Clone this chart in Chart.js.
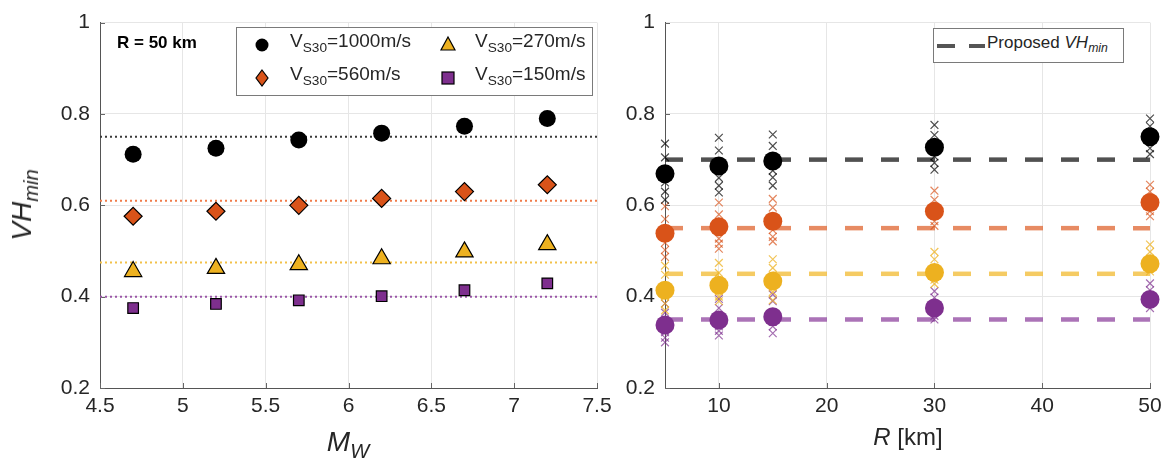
<!DOCTYPE html>
<html>
<head>
<meta charset="utf-8">
<script src="https://cdn.jsdelivr.net/npm/chart.js@4.4.0/dist/chart.umd.min.js"></script>
<style>
  body { margin: 0; background: #fff; font-family: "Liberation Sans", Arial, sans-serif; color: #262626; }
  .abs { position: absolute; }
  canvas { position: absolute; top: 0; }
  .lbl { position: absolute; white-space: nowrap; }
  .lbl sub { font-size: 0.72em; vertical-align: -0.35em; line-height: 0; }
  .box { position: absolute; background: #fff; border: 1px solid #7a7a7a; box-sizing: border-box; }
</style>
</head>
<body>
<canvas id="leftChart" width="620" height="473" style="left:0"></canvas>
<canvas id="rightChart" width="571" height="473" style="left:600px"></canvas>

<!-- axis titles -->
<div class="lbl" style="left:22px;top:205px;font-size:28px;transform:translate(-50%,-50%) rotate(-90deg)"><i>VH<sub>min</sub></i></div>
<div class="lbl" style="left:348px;top:442px;font-size:28px;transform:translate(-50%,-50%)"><i>M<sub>W</sub></i></div>
<div class="lbl" style="left:908px;top:437px;font-size:24px;transform:translate(-50%,-50%)"><i>R</i> [km]</div>

<!-- left panel annotation + legend -->
<div class="lbl" style="left:117px;top:33px;font-size:17px;font-weight:bold;color:#000">R = 50 km</div>
<div class="box" style="left:236px;top:27px;width:357px;height:69px"></div>
<svg class="abs" style="left:236px;top:27px" width="357" height="69">
  <circle cx="26" cy="18" r="6.5" fill="#000"/>
  <polygon points="212,10 219,23 205,23" fill="#EDB120" stroke="#000" stroke-width="1.2"/>
  <polygon points="26,43 32,51 26,59 20,51" fill="#D95319" stroke="#000" stroke-width="1.2"/>
  <rect x="206" y="45" width="12" height="12" fill="#7E2F8E" stroke="#000" stroke-width="1.2"/>
</svg>
<div class="lbl" style="left:290px;top:30px;font-size:19px">V<sub>S30</sub>=1000m/s</div>
<div class="lbl" style="left:475px;top:30px;font-size:19px">V<sub>S30</sub>=270m/s</div>
<div class="lbl" style="left:290px;top:63px;font-size:19px">V<sub>S30</sub>=560m/s</div>
<div class="lbl" style="left:475px;top:63px;font-size:19px">V<sub>S30</sub>=150m/s</div>

<!-- right panel legend -->
<div class="box" style="left:933px;top:28px;width:191px;height:35px"></div>
<svg class="abs" style="left:933px;top:28px" width="60" height="35">
  <line x1="4" y1="18" x2="52" y2="18" stroke="#555" stroke-width="4" stroke-dasharray="18,14"/>
</svg>
<div class="lbl" style="left:987px;top:33px;font-size:17px">Proposed <i>VH<sub>min</sub></i></div>

<script>
// ---- left panel: VHmin vs magnitude at R = 50 km ----
const magnitudes = [4.7, 5.2, 5.7, 6.2, 6.7, 7.2];
const vh1000 = [0.712, 0.725, 0.743, 0.758, 0.773, 0.790];
const vh560 = [0.576, 0.587, 0.600, 0.615, 0.630, 0.645];
const vh270 = [0.455, 0.462, 0.470, 0.483, 0.498, 0.514];
const vh150 = [0.375, 0.384, 0.392, 0.401, 0.414, 0.429];
const levelsMw = [0.75, 0.61, 0.475, 0.40];   // dotted lines, same order as above
const mwTicks = [4.5, 5, 5.5, 6, 6.5, 7, 7.5];

// ---- right panel: VHmin vs distance ----
const distances = [5, 10, 15, 30, 50];
const rTicks = [10, 20, 30, 40, 50];
const vhTicks = [0.2, 0.4, 0.6, 0.8, 1];

// single-magnitude values (crosses), one row per distance
const cross1000 = [
  [0.735, 0.705, 0.675, 0.650, 0.630, 0.612],
  [0.748, 0.720, 0.690, 0.660, 0.643, 0.628],
  [0.755, 0.730, 0.701, 0.676, 0.661, 0.643],
  [0.776, 0.754, 0.729, 0.707, 0.693, 0.678],
  [0.712, 0.725, 0.743, 0.758, 0.773, 0.790]
];
const cross560 = [
  [0.598, 0.570, 0.540, 0.518, 0.502, 0.487],
  [0.606, 0.580, 0.552, 0.527, 0.516, 0.505],
  [0.614, 0.595, 0.568, 0.546, 0.531, 0.521],
  [0.632, 0.612, 0.592, 0.578, 0.565, 0.555],
  [0.576, 0.587, 0.600, 0.615, 0.630, 0.645]
];
const cross270 = [
  [0.468, 0.448, 0.420, 0.400, 0.385, 0.370],
  [0.474, 0.452, 0.430, 0.412, 0.400, 0.390],
  [0.482, 0.463, 0.440, 0.420, 0.410, 0.392],
  [0.498, 0.482, 0.462, 0.447, 0.437, 0.428],
  [0.455, 0.462, 0.470, 0.483, 0.498, 0.514]
];
const cross150 = [
  [0.385, 0.365, 0.340, 0.322, 0.310, 0.300],
  [0.395, 0.375, 0.352, 0.335, 0.325, 0.315],
  [0.405, 0.390, 0.360, 0.345, 0.335, 0.320],
  [0.412, 0.398, 0.382, 0.368, 0.358, 0.350],
  [0.375, 0.384, 0.392, 0.401, 0.414, 0.429]
];
// averages (filled circles)
const mean1000 = [0.669, 0.686, 0.697, 0.727, 0.750];
const mean560 = [0.539, 0.553, 0.565, 0.587, 0.606];
const mean270 = [0.414, 0.425, 0.434, 0.453, 0.472];
const mean150 = [0.338, 0.349, 0.356, 0.375, 0.394];
const proposed = [0.70, 0.55, 0.45, 0.35];

const colors = ['#000000', '#D95319', '#EDB120', '#7E2F8E'];
const crossColors = ['rgba(0,0,0,0.7)', 'rgba(217,83,25,0.7)', 'rgba(237,177,32,0.75)', 'rgba(126,47,142,0.7)'];
const dashColors = ['rgba(50,50,50,0.85)', 'rgba(225,110,60,0.8)', 'rgba(242,190,60,0.8)', 'rgba(150,80,165,0.8)'];
const dotColors = ['#3a3a3a', '#F07C4A', '#F2C14A', '#9A55A8'];

const pts = (xs, ys) => xs.map((x, i) => ({ x: x, y: ys[i] }));
const fmt = v => String(Math.round(v * 10) / 10);

// MATLAB style ticks pointing into the plot
const innerTicks = {
  id: 'innerTicks',
  beforeDatasetsDraw(chart) {
    const ctx = chart.ctx, a = chart.chartArea;
    const xs = chart.scales.x, ys = chart.scales.y;
    ctx.save();
    ctx.strokeStyle = '#666';
    ctx.lineWidth = 1;
    xs.ticks.forEach(t => {
      const px = Math.round(xs.getPixelForValue(t.value)) + 0.5;
      ctx.beginPath(); ctx.moveTo(px, a.bottom); ctx.lineTo(px, a.bottom - 5); ctx.stroke();
    });
    ys.ticks.forEach(t => {
      const py = Math.round(ys.getPixelForValue(t.value)) + 0.5;
      ctx.beginPath(); ctx.moveTo(a.left, py); ctx.lineTo(a.left + 5, py); ctx.stroke();
    });
    ctx.restore();
  }
};

function axes(xMin, xMax, xTicks, yWidth) {
  const tickFont = { family: '"Liberation Sans", Arial, sans-serif', size: 21 };
  return {
    x: {
      type: 'linear', min: xMin, max: xMax,
      afterBuildTicks: s => { s.ticks = xTicks.map(v => ({ value: v })); },
      afterFit: s => { s.height = 85; },
      ticks: { callback: fmt, font: tickFont, color: '#262626', padding: 6, maxRotation: 0 },
      grid: { color: '#e6e6e6', drawTicks: false },
      border: { display: true, color: '#555' }
    },
    y: {
      type: 'linear', min: 0.2, max: 1,
      afterBuildTicks: s => { s.ticks = vhTicks.map(v => ({ value: v })); },
      afterFit: s => { s.width = yWidth; },
      ticks: { callback: fmt, font: tickFont, color: '#262626', padding: 10 },
      grid: { color: '#e6e6e6', drawTicks: false },
      border: { display: true, color: '#555' }
    }
  };
}

const common = {
  responsive: false,
  animation: false,
  devicePixelRatio: 1,
  plugins: { legend: { display: false }, tooltip: { enabled: false } }
};

// left chart
const leftSets = [];
[vh1000, vh560, vh270, vh150].forEach((_, k) => {
  leftSets.push({
    data: [{ x: 4.5, y: levelsMw[k] }, { x: 7.5, y: levelsMw[k] }],
    showLine: true, borderColor: dotColors[k], borderWidth: 2, borderDash: [2, 3],
    pointRadius: 0, order: 2
  });
});
const shapes = ['circle', 'rectRot', 'triangle', 'rect'];
const radii = [8.5, 9, 10, 7.5];
[vh1000, vh560, vh270, vh150].forEach((vals, k) => {
  leftSets.push({
    data: pts(magnitudes, vals),
    pointStyle: shapes[k], pointRadius: radii[k],
    backgroundColor: colors[k], borderColor: '#000', borderWidth: k === 0 ? 0 : 1.2,
    order: 1
  });
});

new Chart(document.getElementById('leftChart'), {
  type: 'scatter',
  data: { datasets: leftSets },
  options: Object.assign({}, common, {
    layout: { padding: { top: 18, right: 23, left: 0, bottom: 0 } },
    scales: axes(4.5, 7.5, mwTicks, 100)
  }),
  plugins: [innerTicks]
});

// right chart
const rightSets = [];
proposed.forEach((lvl, k) => {
  rightSets.push({
    data: [{ x: 5, y: lvl }, { x: 50, y: lvl }],
    showLine: true, borderColor: dashColors[k], borderWidth: 4.5, borderDash: [18, 18],
    pointRadius: 0, order: 3
  });
});
[cross1000, cross560, cross270, cross150].forEach((rows, k) => {
  const data = [];
  rows.forEach((row, i) => row.forEach(v => data.push({ x: distances[i], y: v })));
  rightSets.push({
    data: data, pointStyle: 'crossRot', pointRadius: 5.5,
    borderColor: crossColors[k], borderWidth: 1.2, clip: false, order: 2
  });
});
[mean1000, mean560, mean270, mean150].forEach((vals, k) => {
  rightSets.push({
    data: pts(distances, vals), pointStyle: 'circle', pointRadius: 9.5,
    backgroundColor: colors[k], borderWidth: 0, clip: false, order: 1
  });
});

new Chart(document.getElementById('rightChart'), {
  type: 'scatter',
  data: { datasets: rightSets },
  options: Object.assign({}, common, {
    layout: { padding: { top: 18, right: 21, left: 0, bottom: 0 } },
    scales: axes(5, 50, rTicks, 65)
  }),
  plugins: [innerTicks]
});
</script>
</body>
</html>
